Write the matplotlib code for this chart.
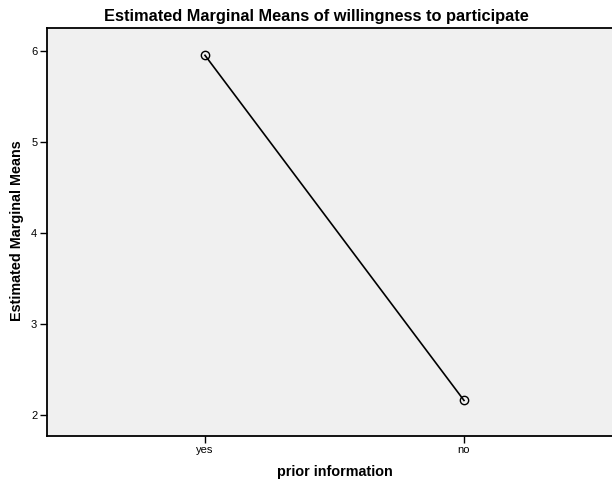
import matplotlib
matplotlib.use('Agg')
import matplotlib.pyplot as plt

plt.rcParams['font.family'] = ['Liberation Sans', 'DejaVu Sans']

# data
categories = ['yes', 'no']
means = [5.95, 2.16]

fig = plt.figure(figsize=(6.12, 4.83), dpi=100)
ax = fig.add_axes([47 / 612, 47.5 / 483, 575 / 612, 407.5 / 483])
ax.set_facecolor('#f0f0f0')

x = list(range(len(categories)))
ax.plot(x, means, color='black', linewidth=1.2, marker='o', markersize=6,
        markerfacecolor='none', markeredgecolor='black', markeredgewidth=1.0)

ax.set_xlim(-0.61, 1.61)
ax.set_ylim(1.775, 6.25)
ax.set_xticks(x)
ax.set_xticklabels(categories)
ax.set_yticks([2, 3, 4, 5, 6])
ax.tick_params(axis='both', direction='out', length=5, width=1, labelsize=8, pad=2)

for side in ['left', 'bottom', 'top', 'right']:
    ax.spines[side].set_linewidth(1.3)
    ax.spines[side].set_color('black')

fig.text(316 / 612, 1 - 17 / 483, 'Estimated Marginal Means of willingness to participate',
         ha='center', va='center', fontsize=11.8, fontweight='bold')
fig.text(335 / 612, 1 - 472 / 483, 'prior information',
         ha='center', va='center', fontsize=10.4, fontweight='bold')
fig.text(17 / 612, 1 - 231 / 483, 'Estimated Marginal Means', rotation=90,
         ha='center', va='center', fontsize=10.4, fontweight='bold')

fig.savefig('out.png', dpi=100)
